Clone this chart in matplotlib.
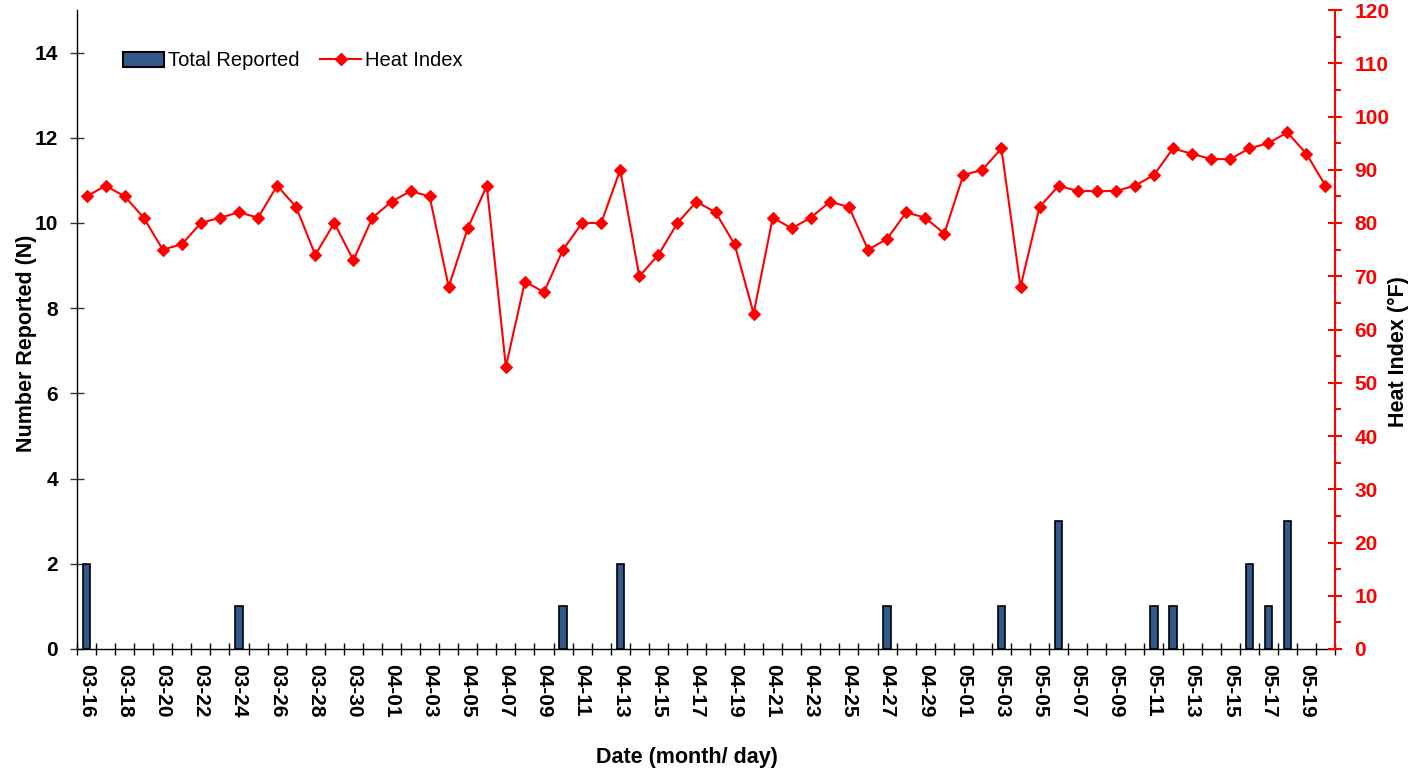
import matplotlib
matplotlib.use("Agg")
import matplotlib.pyplot as plt
import numpy as np
import pandas as pd
from matplotlib.ticker import FixedLocator, MultipleLocator
from matplotlib.patches import Patch
from matplotlib.lines import Line2D

plt.rcParams['font.family'] = ['Liberation Sans', 'DejaVu Sans']

# ---- data ----
dates = list(pd.date_range("2020-03-16", "2020-05-20").strftime("%m-%d"))
total_reported = [2, 0, 0, 0, 0, 0, 0, 0, 1, 0, 0, 0, 0, 0, 0, 0, 0, 0,
                  0, 0, 0, 0, 0, 0, 0, 1, 0, 0, 2, 0, 0, 0, 0, 0, 0, 0,
                  0, 0, 0, 0, 0, 0, 1, 0, 0, 0, 0, 0, 1, 0, 0, 3, 0, 0,
                  0, 0, 1, 1, 0, 0, 0, 2, 1, 3, 0, 0]
heat_index = [85, 87, 85, 81, 75, 76, 80, 81, 82, 81, 87, 83, 74, 80, 73, 81, 84, 86,
              85, 68, 79, 87, 53, 69, 67, 75, 80, 80, 90, 70, 74, 80, 84, 82, 76, 63,
              81, 79, 81, 84, 83, 75, 77, 82, 81, 78, 89, 90, 94, 68, 83, 87, 86, 86,
              86, 87, 89, 94, 93, 92, 92, 94, 95, 97, 93, 87]
left_ticks = [0, 2, 4, 6, 8, 10, 12, 14]
right_ticks = list(range(0, 121, 10))

bar_color = "#31598C"
red = "#FF0000"

W, H = 1409, 774
fig = plt.figure(figsize=(W / 100, H / 100), dpi=100)
ax = fig.add_axes([77 / W, (H - 649) / H, 1258 / W, 639 / H])
ax2 = ax.twinx()

x = np.arange(len(dates))
counts = np.array(total_reported)
nz = counts > 0
ax.bar(x[nz], counts[nz], width=0.38, color=bar_color, edgecolor="black",
       linewidth=1.2, zorder=2)
ax2.plot(x, heat_index, color=red, linewidth=1.5, marker="D", markersize=5.8,
         markeredgewidth=0.8, markeredgecolor=red, zorder=3)

ax.set_xlim(-0.5, len(dates) - 0.5)
ax.set_ylim(0, 15)
ax2.set_ylim(0, 120)

# x axis: boundary tick marks, labels every 2nd category
ax.xaxis.set_major_locator(FixedLocator(x[::2]))
ax.set_xticklabels([dates[i] for i in x[::2]], rotation=-90, fontsize=15,
                   fontweight="bold")
ax.xaxis.set_minor_locator(FixedLocator(np.arange(-0.5, len(dates), 1.0)))
ax.tick_params(axis="x", which="major", length=0, pad=10.5)
ax.tick_params(axis="x", which="minor", direction="inout", length=9, width=1,
               color="black")

# left axis
ax.set_yticks(left_ticks)
ax.set_yticklabels([str(t) for t in left_ticks], fontsize=15, fontweight="bold")
ax.tick_params(axis="y", direction="inout", length=9.5, width=1, pad=9.0,
               color="#333333")

# right axis
ax2.set_yticks(right_ticks)
ax2.set_yticklabels([str(t) for t in right_ticks], fontsize=15,
                    fontweight="bold", color=red)
ax2.yaxis.set_minor_locator(MultipleLocator(5))
ax2.tick_params(axis="y", which="major", direction="inout", length=9.5,
                width=1.5, pad=9.2, color=red)
ax2.tick_params(axis="y", which="minor", direction="out", length=4,
                width=1.5, color=red)

for a in (ax, ax2):
    a.spines["top"].set_visible(False)
ax.spines["right"].set_visible(False)
ax2.spines["left"].set_visible(False)
ax2.spines["bottom"].set_visible(False)
ax2.spines["right"].set_color(red)
ax2.spines["right"].set_linewidth(1.5)
ax.spines["left"].set_linewidth(1)
ax.spines["bottom"].set_linewidth(1)

ax.set_xlabel("Date (month/ day)", fontsize=15.5, fontweight="bold")
ax.xaxis.set_label_coords((687 - 77) / 1258, (649 - 747) / 639)
ax.set_ylabel("Number Reported (N)", fontsize=15.5, fontweight="bold")
ax.yaxis.set_label_coords((37 - 77) / 1258, (649 - 343) / 639)
ax2.set_ylabel("Heat Index (°F)", fontsize=15.5, fontweight="bold",
               color="black")
ax2.yaxis.set_label_coords((1388 - 77) / 1258, (649 - 352) / 639)

handles = [Patch(facecolor=bar_color, edgecolor="black", linewidth=1.5),
           Line2D([], [], color=red, linewidth=1.5, marker="D", markersize=5.8)]
leg = ax2.legend(handles, ["Total Reported", "Heat Index"], ncol=2,
                 frameon=False, loc="center left",
                 bbox_to_anchor=((123 - 77) / 1258, (649 - 61) / 639),
                 borderpad=0, borderaxespad=0, handlelength=2.05,
                 handletextpad=0.2, columnspacing=1.0, fontsize=14.5)

fig.savefig("out.png", dpi=100, facecolor="white")
